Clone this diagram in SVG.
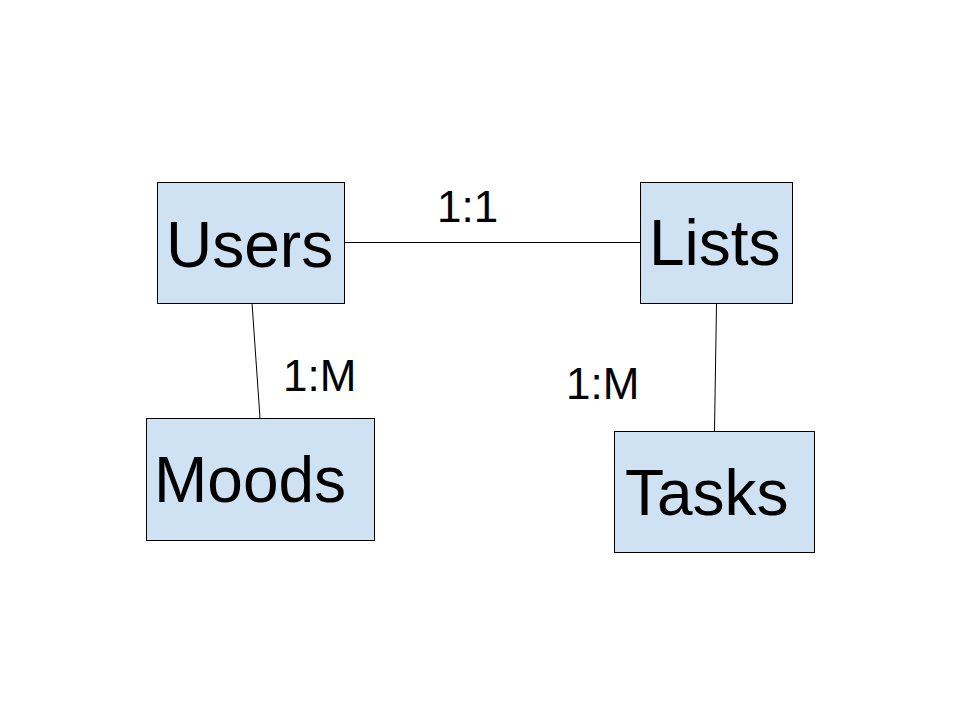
<svg xmlns="http://www.w3.org/2000/svg" width="960" height="720" viewBox="0 0 960 720">
<style>
.box{fill:#cfe2f3;stroke:#000;stroke-width:1}
.name{font-family:"Liberation Sans",Arial,sans-serif;font-size:64px;fill:#000}
.lbl{font-family:"Liberation Sans",Arial,sans-serif;font-size:44px;fill:#000}
.conn{stroke:#000;stroke-width:1;fill:none}
</style>
<rect width="960" height="720" fill="#fff"/>
<g id="connectors">
<line class="conn" x1="344.5" y1="242.5" x2="640.5" y2="242.5"/>
<line class="conn" x1="252" y1="303" x2="260" y2="418"/>
<line class="conn" x1="716.5" y1="303" x2="714.5" y2="431"/>
<text class="lbl" x="437" y="222">1:1</text>
<text class="lbl" x="283" y="391">1:M</text>
<text class="lbl" x="566" y="399">1:M</text>
</g>
<g id="users">
<rect class="box" x="157.5" y="182.5" width="187" height="121"/>
<text class="name" x="166" y="267">Users</text>
</g>
<g id="lists">
<rect class="box" x="640.5" y="182.5" width="152" height="121"/>
<text class="name" x="649" y="265">Lists</text>
</g>
<g id="moods">
<rect class="box" x="146.5" y="418.5" width="228" height="122"/>
<text class="name" x="154" y="502">Moods</text>
</g>
<g id="tasks">
<rect class="box" x="614.5" y="431.5" width="200" height="121"/>
<text class="name" x="625" y="515">Tasks</text>
</g>
</svg>
